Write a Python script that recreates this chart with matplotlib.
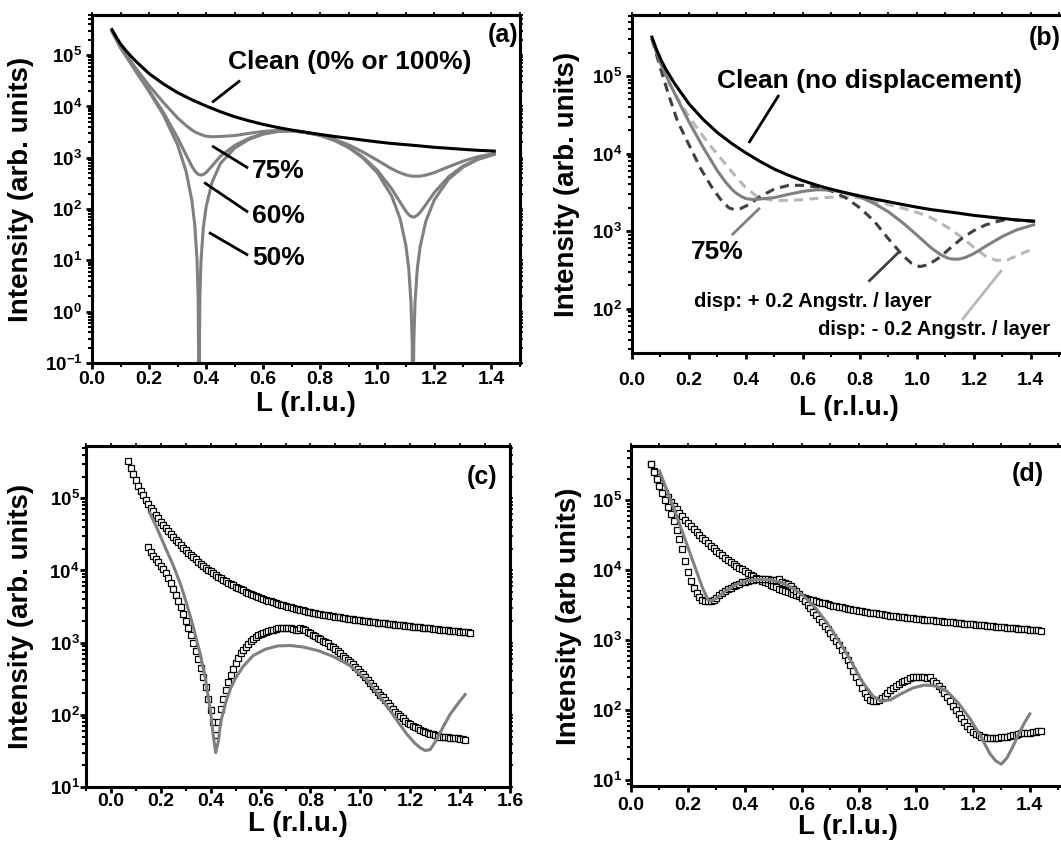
import numpy as np
import matplotlib
matplotlib.use("Agg")
import matplotlib.pyplot as plt
from matplotlib.ticker import (FixedLocator, LogLocator, MultipleLocator,
                               FuncFormatter, NullFormatter)

plt.rcParams["font.family"] = ["Liberation Sans", "DejaVu Sans"]
plt.rcParams["font.weight"] = "bold"
plt.rcParams["mathtext.fontset"] = "custom"
plt.rcParams["mathtext.rm"] = "Liberation Sans:bold"
plt.rcParams["mathtext.bf"] = "Liberation Sans:bold"
plt.rcParams["mathtext.it"] = "Liberation Sans:bold"
plt.rcParams["axes.linewidth"] = 2.2

# ---------------- (a)/(b): model curves ----------------
L_clean = [0.07, 0.085, 0.10, 0.12, 0.15, 0.20, 0.25, 0.30, 0.35, 0.40, 0.45, 0.50,
           0.55, 0.60, 0.65, 0.70, 0.75, 0.80, 0.85, 0.90, 0.95, 1.00, 1.05, 1.10,
           1.15, 1.20, 1.25, 1.30, 1.35, 1.41]
I_clean = [3.16e5, 2.24e5, 1.66e5, 1.2e5, 7.94e4, 4.37e4, 2.75e4, 1.86e4, 1.35e4,
           1.02e4, 7.9e3, 6.3e3, 5.25e3, 4.47e3, 3.9e3, 3.47e3, 3.13e3, 2.85e3,
           2.6e3, 2.4e3, 2.21e3, 2.04e3, 1.9e3, 1.8e3, 1.7e3, 1.6e3, 1.53e3,
           1.46e3, 1.4e3, 1.35e3]

L_mix = [0.07, 0.10, 0.15, 0.20, 0.25, 0.30, 0.33, 0.35, 0.36, 0.368, 0.372, 0.375,
         0.378, 0.382, 0.39, 0.40, 0.42, 0.45, 0.50, 0.55, 0.60, 0.65, 0.70, 0.75,
         0.80, 0.85, 0.90, 0.95, 1.00, 1.05, 1.08, 1.10, 1.11, 1.118, 1.122, 1.125,
         1.128, 1.132, 1.14, 1.15, 1.17, 1.20, 1.25, 1.30, 1.35, 1.41]
I_50 = [2.9e5, 1.39e5, 5.2e4, 1.96e4, 6.9e3, 1.78e3, 537, 147, 50, 10.5, 1.9, 0.01,
        1.8, 9.7, 42.6, 111, 326, 774, 1.55e3, 2.28e3, 2.88e3, 3.25e3, 3.35e3, 3.1e3,
        2.73e3, 2.17e3, 1.57e3, 985, 510, 181, 64.6, 19.6, 7.0, 1.5, 0.28, 0.01,
        0.28, 1.5, 6.9, 18.5, 58, 153, 383, 654, 916, 1.17e3]
I_60 = [2.91e5, 1.40e5, 5.3e4, 2.05e4, 7.7e3, 2.45e3, 1.13e3, 682, 556, 498, 478, 468,
        466, 461, 473, 515, 685, 1.07e3, 1.74e3, 2.40e3, 2.94e3, 3.28e3, 3.35e3, 3.1e3,
        2.73e3, 2.19e3, 1.60e3, 1.03e3, 571, 250, 136, 91, 78, 72, 71, 70,
        70, 71, 76, 86, 122, 211, 428, 686, 935, 1.17e3]
I_75 = [2.96e5, 1.45e5, 5.9e4, 2.56e4, 1.2e4, 5.98e3, 4.23e3, 3.49e3, 3.21e3, 3.06e3,
        2.98e3, 2.93e3, 2.9e3, 2.83e3, 2.73e3, 2.63e3, 2.57e3, 2.6e3, 2.71e3, 2.99e3,
        3.26e3, 3.42e3, 3.39e3, 3.1e3, 2.76e3, 2.28e3, 1.78e3, 1.29e3, 893, 611, 508,
        465, 450, 441, 440, 438, 438, 436, 437, 439, 459, 515, 669, 856, 1.04e3, 1.21e3]

L_plus = [0.07, 0.10, 0.13, 0.16, 0.20, 0.24, 0.28, 0.31, 0.34, 0.36, 0.38, 0.41,
          0.45, 0.50, 0.55, 0.60, 0.65, 0.70, 0.75, 0.80, 0.85, 0.90, 0.95, 0.98,
          1.01, 1.04, 1.08, 1.12, 1.16, 1.20, 1.24, 1.28, 1.32, 1.36, 1.41]
I_plus = [3.0e5, 1.25e5, 5.5e4, 2.6e4, 1.3e4, 6.5e3, 3.7e3, 2.6e3, 2.0e3, 1.9e3,
          1.95e3, 2.2e3, 2.8e3, 3.5e3, 3.9e3, 3.9e3, 3.7e3, 3.3e3, 2.7e3, 2.0e3,
          1.35e3, 800, 490, 390, 350, 370, 460, 620, 820, 1.02e3, 1.2e3, 1.33e3,
          1.43e3, 1.38e3, 1.34e3]

L_minus = [0.07, 0.10, 0.13, 0.16, 0.20, 0.24, 0.28, 0.32, 0.36, 0.40, 0.44, 0.48,
           0.52, 0.56, 0.60, 0.65, 0.70, 0.75, 0.80, 0.85, 0.90, 0.95, 1.00, 1.04,
           1.08, 1.12, 1.16, 1.20, 1.24, 1.28, 1.32, 1.36, 1.41]
I_minus = [3.0e5, 1.45e5, 8.0e4, 5.2e4, 3.0e4, 1.85e4, 1.2e4, 8.0e3, 5.3e3, 3.6e3,
           2.8e3, 2.55e3, 2.5e3, 2.5e3, 2.55e3, 2.65e3, 2.75e3, 2.75e3, 2.7e3, 2.45e3,
           2.2e3, 1.98e3, 1.75e3, 1.55e3, 1.3e3, 1.05e3, 820, 620, 480, 420, 430,
           500, 600]

# ---------------- (c)/(d): measured scans (step 0.01 r.l.u.) ----------------
I_sub = [3.31e5, 2.63e5, 2.14e5, 1.78e5, 1.50e5, 1.27e5, 1.10e5, 9.55e4, 8.41e4, 7.41e4,
         6.61e4, 5.89e4, 5.27e4, 4.74e4, 4.29e4, 3.88e4, 3.52e4, 3.21e4, 2.92e4, 2.67e4,
         2.45e4, 2.25e4, 2.07e4, 1.91e4, 1.77e4, 1.64e4, 1.52e4, 1.42e4, 1.32e4, 1.24e4,
         1.16e4, 1.09e4, 1.03e4, 9680, 9160, 8690, 8240, 7830, 7460, 7110,
         6790, 6490, 6210, 5960, 5710, 5500, 5280, 5090, 4910, 4740,
         4580, 4440, 4300, 4170, 4050, 3930, 3820, 3720, 3620, 3530,
         3440, 3370, 3290, 3210, 3140, 3080, 3010, 2950, 2900, 2840,
         2790, 2740, 2690, 2650, 2610, 2560, 2520, 2480, 2450, 2420,
         2380, 2350, 2320, 2290, 2250, 2230, 2200, 2180, 2150, 2130,
         2100, 2080, 2060, 2030, 2010, 1990, 1970, 1950, 1940, 1920,
         1900, 1880, 1870, 1850, 1830, 1820, 1800, 1780, 1770, 1750,
         1730, 1720, 1700, 1690, 1670, 1660, 1640, 1630, 1610, 1600,
         1580, 1570, 1550, 1540, 1530, 1510, 1500, 1490, 1480, 1470,
         1460, 1440, 1430, 1420, 1410, 1400, 1390, 1380]
L_sub = np.linspace(0.07, 1.44, len(I_sub))

I_film_c = [2.09e4, 1.78e4, 1.58e4, 1.45e4, 1.32e4, 1.17e4, 1.05e4, 9120, 7760, 6610,
            5500, 4570, 3800, 3090, 2510, 2000, 1580, 1260, 1000, 776,
            589, 447, 331, 240, 166, 115, 79, 52, 79, 120,
            166, 219, 282, 355, 437, 525, 617, 708, 794, 871,
            955, 1050, 1120, 1200, 1260, 1320, 1380, 1410, 1450, 1480,
            1510, 1550, 1570, 1580, 1580, 1580, 1580, 1570, 1550, 1510,
            1480, 1580, 1550, 1480, 1410, 1350, 1290, 1230, 1170, 1120,
            1070, 1020, 977, 912, 871, 813, 759, 708, 661, 617,
            575, 537, 501, 457, 427, 389, 363, 331, 302, 275,
            251, 229, 209, 191, 174, 158, 145, 132, 120, 110,
            102, 95, 89, 83, 78, 74, 71, 68, 65, 62,
            60, 58, 56, 55, 54, 52, 51, 50, 50, 49,
            49, 48, 48, 47, 47, 46, 46, 45]
L_film_c = np.linspace(0.15, 1.42, len(I_film_c))

L_fit_c = [0.155, 0.18, 0.20, 0.22, 0.25, 0.28, 0.30, 0.33, 0.36, 0.38, 0.40, 0.41,
           0.42, 0.43, 0.44, 0.46, 0.48, 0.50, 0.53, 0.57, 0.62, 0.67, 0.72, 0.77,
           0.83, 0.89, 0.96, 1.03, 1.09, 1.13, 1.16, 1.19, 1.22, 1.24, 1.26, 1.28,
           1.30, 1.33, 1.36, 1.39, 1.42]
I_fit_c = [6.3e4, 4.2e4, 2.9e4, 2.0e4, 1.17e4, 6300, 3800, 1660, 646, 302, 105, 52,
           30, 42, 79, 148, 234, 324, 468, 661, 813, 902, 912, 871,
           776, 646, 479, 295, 158, 102, 72, 52, 40, 35, 32, 33,
           42, 66, 102, 141, 191]

I_film_d = [3.31e5, 2.51e5, 2.00e5, 1.58e5, 1.26e5, 1.00e5, 7.94e4, 6.31e4, 5.01e4, 3.80e4,
            2.82e4, 2.00e4, 1.38e4, 9550, 7080, 5620, 4790, 4170, 3800, 3630,
            3590, 3630, 3800, 4070, 4370, 4680, 5010, 5370, 5620, 5890,
            6170, 6460, 6760, 6920, 7080, 7240, 7330, 7410, 7500, 7500,
            7500, 7410, 7330, 7240, 7240, 7590, 6920, 6610, 6310, 5890,
            5500, 5010, 4570, 4070, 3630, 3240, 2880, 2570, 2290, 2040,
            1820, 1620, 1450, 1290, 1120, 977, 851, 724, 617, 525,
            437, 363, 302, 251, 209, 178, 155, 141, 135, 135,
            141, 151, 162, 178, 195, 209, 224, 240, 251, 263,
            275, 288, 295, 302, 302, 299, 295, 288, 295, 263,
            245, 224, 200, 178, 155, 135, 117, 102, 89, 78,
            68, 60, 54, 49, 46, 44, 42, 41, 40, 40,
            40, 40, 40, 41, 42, 42, 43, 44, 45, 46,
            47, 47, 48, 48, 49, 49, 50, 50]
L_film_d = np.linspace(0.07, 1.44, len(I_film_d))

L_fit_d = [0.10, 0.13, 0.16, 0.19, 0.22, 0.25, 0.27, 0.28, 0.30, 0.33, 0.37, 0.41,
           0.45, 0.49, 0.53, 0.57, 0.61, 0.65, 0.69, 0.73, 0.77, 0.81, 0.85, 0.88,
           0.91, 0.95, 0.99, 1.03, 1.07, 1.11, 1.15, 1.19, 1.23, 1.26, 1.28, 1.30,
           1.32, 1.34, 1.36, 1.38, 1.40]
I_fit_d = [2.63e5, 1.26e5, 6.03e4, 2.75e4, 1.26e4, 5750, 3800, 3630, 3980, 5010, 6310, 7080,
           7410, 7330, 6610, 5500, 4170, 2820, 1740, 977, 525, 263, 158, 135,
           141, 174, 209, 229, 224, 186, 126, 76, 41, 24, 19, 17,
           21, 30, 45, 65, 89]

GRAY = "#808080"
DARK = "#404040"
LIGHT = "#b8b8b8"
LW = 2.2
TXT = 19

W, H = 1061, 848
fig = plt.figure(figsize=(W / 100, H / 100), dpi=100)


def add_axes(left, top, width, height):
    return fig.add_axes([left / W, 1 - (top + height) / H, width / W, height / H])


def style(ax, xlim, ylim, xticks, decades, xpad, ypad, ylabel, xlab_y, ylab_x):
    ax.set_yscale("log")
    ax.set_xlim(*xlim)
    ax.set_ylim(*ylim)
    ax.xaxis.set_major_locator(FixedLocator(xticks))
    ax.xaxis.set_minor_locator(MultipleLocator(0.1))
    ax.xaxis.set_major_formatter(FuncFormatter(lambda v, p: f"{v:.1f}"))
    ax.yaxis.set_major_locator(FixedLocator([10.0 ** e for e in decades]))
    ax.yaxis.set_minor_locator(LogLocator(base=10, subs=np.arange(2, 10), numticks=30))
    ax.yaxis.set_major_formatter(
        FuncFormatter(lambda v, p: r"$\mathbf{10^{%d}}$" % round(np.log10(v))))
    ax.yaxis.set_minor_formatter(NullFormatter())
    ax.tick_params(which="both", direction="out")
    ax.tick_params(which="major", length=4.5, width=2.0)
    ax.tick_params(which="minor", length=3.0, width=1.5)
    ax.tick_params(axis="x", which="major", labelsize=14, pad=xpad)
    ax.tick_params(axis="y", which="major", labelsize=13.5, pad=ypad)

    top = ax.secondary_xaxis("top")
    top.xaxis.set_major_locator(FixedLocator(xticks))
    top.xaxis.set_minor_locator(MultipleLocator(0.1))
    top.xaxis.set_major_formatter(NullFormatter())
    top.tick_params(which="both", direction="out", length=2, width=1.2)
    right = ax.secondary_yaxis("right")
    right.yaxis.set_major_locator(FixedLocator([10.0 ** e for e in decades]))
    right.yaxis.set_minor_locator(LogLocator(base=10, subs=np.arange(2, 10), numticks=30))
    right.yaxis.set_major_formatter(NullFormatter())
    right.yaxis.set_minor_formatter(NullFormatter())
    right.tick_params(which="both", direction="out", length=2, width=1.2)

    ax.set_xlabel("L (r.l.u.)", fontsize=20, fontweight="bold")
    ax.set_ylabel(ylabel, fontsize=20, fontweight="bold")
    ax.xaxis.set_label_coords(0.5, xlab_y)
    ax.yaxis.set_label_coords(ylab_x, 0.5)


def leader(ax, p0, p1, color="black"):
    ax.plot([p0[0], p1[0]], [p0[1], p1[1]], color=color, lw=2.0,
            solid_capstyle="butt")


# ---- (a) ----
ax = add_axes(92, 15, 428, 348)
style(ax, (0, 1.5), (0.1, 6.06e5), np.arange(0, 1.41, 0.2), range(-1, 6),
      1.5, 2.5, "Intensity (arb. units)", -0.080, -0.136)
for I in (I_50, I_60, I_75):
    ax.plot(L_mix, I, color=GRAY, lw=LW)
ax.plot(L_clean, I_clean, color="black", lw=LW)
ax.text(0.905, 7.3e4, "Clean (0% or 100%)", fontsize=TXT, ha="center", va="center")
leader(ax, (0.421, 1.2e4), (0.519, 3.2e4))
ax.text(0.653, 550, "75%", fontsize=TXT, ha="center", va="center")
leader(ax, (0.421, 1.7e3), (0.547, 630))
ax.text(0.653, 72, "60%", fontsize=TXT, ha="center", va="center")
leader(ax, (0.393, 330), (0.547, 87))
ax.text(0.653, 11, "50%", fontsize=TXT, ha="center", va="center")
leader(ax, (0.41, 35), (0.547, 12.6))
ax.text(1.439, 2.5e5, "(a)", fontsize=18, ha="center", va="center")

# ---- (b) ----
ax = add_axes(632, 15, 433, 338)
style(ax, (0, 1.52), (27, 6.1e5), np.arange(0, 1.41, 0.2), range(2, 6),
      9.0, 2.5, "Intensity (arb. units)", -0.123, -0.119)
ax.plot(L_minus, I_minus, color=LIGHT, lw=LW, ls=(0, (3, 2)))
ax.plot(L_plus, I_plus, color=DARK, lw=LW, ls=(0, (3, 2)))
ax.plot(L_mix, I_75, color=GRAY, lw=LW)
ax.plot(L_clean, I_clean, color="black", lw=LW)
ax.text(0.835, 8.7e4, "Clean (no displacement)", fontsize=TXT, ha="center", va="center")
leader(ax, (0.41, 1.37e4), (0.516, 5.7e4))
ax.text(0.30, 540, "75%", fontsize=TXT, ha="center", va="center")
leader(ax, (0.35, 890), (0.449, 2.0e3), GRAY)
ax.text(0.635, 126, "disp: + 0.2 Angstr. / layer", fontsize=14.5, ha="center", va="center")
leader(ax, (0.83, 224), (0.937, 540), DARK)
ax.text(1.06, 55, "disp: - 0.2 Angstr. / layer", fontsize=14.5, ha="center", va="center")
leader(ax, (1.158, 72), (1.298, 316), LIGHT)
ax.text(1.449, 3.1e5, "(b)", fontsize=18, ha="center", va="center")

# ---- (c) ----
sq = dict(ls="none", marker="s", ms=4.6, mfc="white", mec="black", mew=0.9)
ax = add_axes(86, 446, 424, 341)
style(ax, (-0.1, 1.6), (10, 5.3e5), np.arange(0, 1.61, 0.2), range(1, 6),
      0.0, 0.0, "Intensity (arb. units)", -0.071, -0.123)
ax.plot(L_sub, I_sub, **sq)
ax.plot(L_film_c, I_film_c, **sq)
ax.plot(L_fit_c, I_fit_c, color=GRAY, lw=LW)
ax.text(1.488, 1.95e5, "(c)", fontsize=18, ha="center", va="center")

# ---- (d) ----
ax = add_axes(631, 446, 433, 340)
style(ax, (0, 1.52), (8.3, 5.97e5), np.arange(0, 1.41, 0.2), range(1, 6),
      3.5, 2.0, "Intensity (arb units)", -0.083, -0.114)
ax.plot(L_sub, I_sub, **sq)
ax.plot(L_film_d, I_film_d, **sq)
ax.plot(L_fit_d, I_fit_d, color=GRAY, lw=LW)
ax.text(1.393, 2.4e5, "(d)", fontsize=18, ha="center", va="center")

fig.savefig("out.png", dpi=100)
